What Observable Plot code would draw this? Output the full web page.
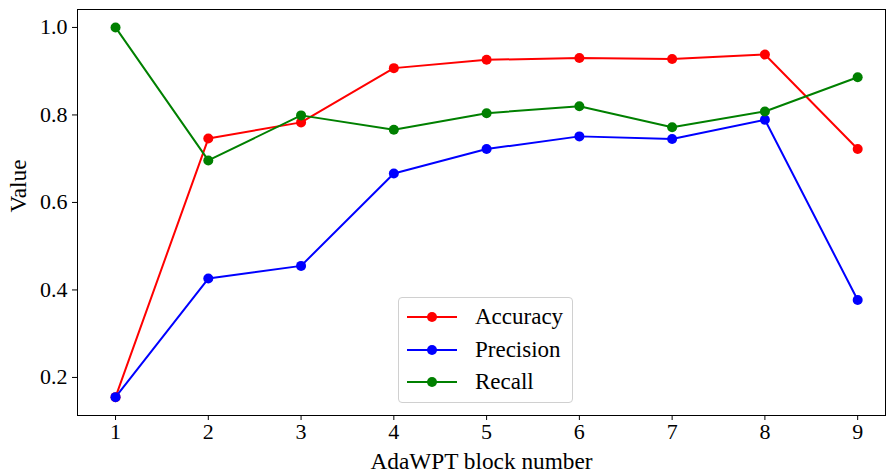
<!DOCTYPE html>
<html>
<head>
<meta charset="utf-8">
<script src="https://cdn.jsdelivr.net/npm/d3@7"></script>
<script src="https://cdn.jsdelivr.net/npm/@observablehq/plot@0.6"></script>
<style>
  body { margin: 0; background: #fff; }
  #wrap { position: relative; width: 886px; height: 472px; font-family: "Liberation Serif", "DejaVu Serif", serif; }
  #legend { position: absolute; left: 398px; top: 297px; width: 175px; height: 106px; border: 1px solid #d0d0d0; border-radius: 4px; background: rgba(255,255,255,0.85); box-sizing: border-box; }
  .item { position: absolute; left: 8px; height: 26px; display: flex; align-items: center; font-size: 23px; color: #000; }
  .item svg { margin-right: 18px; }
</style>
</head>
<body>
<div id="wrap"></div>
<script>
const blocks = [1, 2, 3, 4, 5, 6, 7, 8, 9];
const accuracy  = [0.155, 0.746, 0.783, 0.907, 0.926, 0.930, 0.928, 0.938, 0.722];
const precision = [0.155, 0.426, 0.455, 0.666, 0.722, 0.751, 0.745, 0.789, 0.377];
const recall    = [1.000, 0.696, 0.799, 0.766, 0.804, 0.820, 0.772, 0.808, 0.886];
const seriesNames = ["Accuracy", "Precision", "Recall"];
const seriesColors = ["#ff0000", "#0000ff", "#008000"];
const yTicks = [0.2, 0.4, 0.6, 0.8, 1.0];

const seriesValues = [accuracy, precision, recall];
const data = [];
seriesNames.forEach((name, i) => {
  blocks.forEach((b, j) => data.push({series: name, block: b, value: seriesValues[i][j]}));
});

const plot = Plot.plot({
  width: 886,
  height: 472,
  marginLeft: 77,
  marginRight: 1,
  marginTop: 9,
  marginBottom: 57,
  style: { fontFamily: "Liberation Serif, serif", fontSize: "22px", color: "#000", background: "#fff" },
  x: { domain: [0.59, 9.3], ticks: blocks, tickFormat: d3.format("d"), label: null },
  y: { domain: [0.113, 1.041], ticks: yTicks, tickFormat: d3.format(".1f"), label: null },
  color: { domain: seriesNames, range: seriesColors },
  marks: [
    Plot.frame({ stroke: "#000", strokeWidth: 1 }),
    Plot.line(data, { x: "block", y: "value", z: "series", stroke: "series", strokeWidth: 2 }),
    Plot.dot(data, { x: "block", y: "value", fill: "series", r: 5 }),
    Plot.axisX({ ticks: blocks, tickFormat: d3.format("d"), tickSize: 5, tickPadding: 3, fontSize: 22, label: null }),
    Plot.axisY({ ticks: yTicks, tickFormat: d3.format(".1f"), tickSize: 5, tickPadding: 5, fontSize: 22, label: null }),
    Plot.text(["AdaWPT block number"], { frameAnchor: "bottom", dy: 53, fontSize: 23.3, textAnchor: "middle" }),
    Plot.text(["Value"], { frameAnchor: "left", dx: -59, rotate: -90, fontSize: 23.3 })
  ]
});

const wrap = document.getElementById("wrap");
wrap.appendChild(plot);

const legend = document.createElement("div");
legend.id = "legend";
seriesNames.forEach((name, i) => {
  const item = document.createElement("div");
  item.className = "item";
  item.style.top = (6 + i * 32.5) + "px";
  item.innerHTML = `<svg width="50" height="12"><line x1="0" y1="6" x2="50" y2="6" stroke="${seriesColors[i]}" stroke-width="2"/><circle cx="25" cy="6" r="5" fill="${seriesColors[i]}"/></svg><span>${name}</span>`;
  legend.appendChild(item);
});
wrap.appendChild(legend);
</script>
</body>
</html>
